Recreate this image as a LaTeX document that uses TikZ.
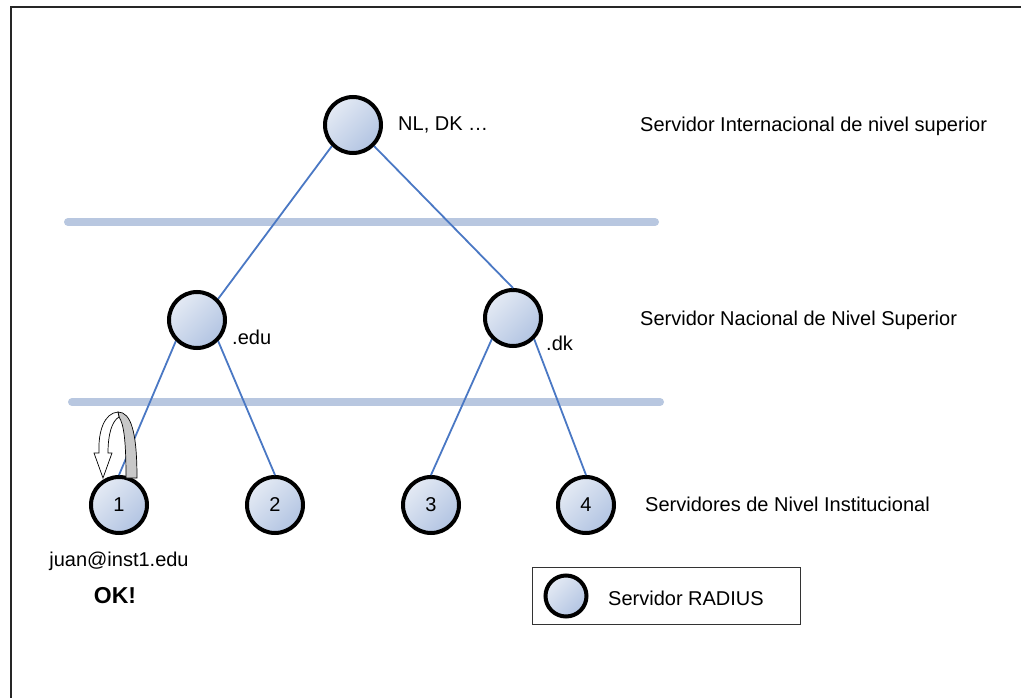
\documentclass[tikz,border=0pt]{standalone}
\usepackage{fontspec}
\setmainfont{Liberation Sans}
\definecolor{barblue}{HTML}{B8C7E0}
\definecolor{linkblue}{HTML}{4A78C4}
\definecolor{nodelight}{HTML}{E4EAF4}
\definecolor{nodedark}{HTML}{B2C4E2}
\definecolor{ribbongray}{HTML}{C8C8C8}
\tikzset{
  server/.style={circle, draw=black, line width=4pt, minimum size=56pt, inner sep=0pt,
    left color=nodelight, right color=nodedark, shading angle=45,
    font=\fontsize{20}{24}\selectfont},
  legendserver/.style={server, minimum size=41pt},
  link/.style={draw=linkblue, line width=1.8pt},
  bar/.style={draw=barblue, line width=8pt, line cap=round},
  lbl/.style={anchor=west, inner sep=0pt, font=\fontsize{20}{24}\selectfont},
}
\begin{document}
\begin{tikzpicture}[x=1pt, y=-1pt]
\useasboundingbox (0,0) rectangle (1021,698);
\fill[white] (0,0) rectangle (1021,698);
% frame
\draw[line width=2pt, black!85] (10.5,698) -- (10.5,7.5) -- (1021,7.5);

% level separators
\draw[bar] (68,222) -- (655,222);
\draw[bar] (72,402) -- (660,402);

% servers
\node[server] (top) at (353,125) {};
\node[server] (edu) at (197,320) {};
\node[server] (dk) at (513,318) {};
\node[server] (s1) at (119,505) {1};
\node[server] (s2) at (275,505) {2};
\node[server] (s3) at (431,505) {3};
\node[server] (s4) at (586,505) {4};

% hierarchy links
\draw[link] (top.south west) -- (edu.north east);
\draw[link] (top.south east) -- (dk.north);
\draw[link] (edu.south west) -- (s1.north);
\draw[link] (edu.south east) -- (s2.north);
\draw[link] (dk.south west) -- (s3.north);
\draw[link] (dk.south east) -- (s4.north);

% local authentication loop on server 1
\draw[fill=ribbongray, line width=0.7pt] (118,412) .. controls (131,412) and (137,432) .. (137,478)
  -- (126,478) .. controls (126,442) and (124,424) .. (119,417) -- cycle;
\draw[fill=white, line width=0.7pt] (118,412) .. controls (104,413) and (98,432) .. (99,453)
  -- (94,453) -- (103,478) -- (112,453) -- (108,453)
  .. controls (108,434) and (112,421) .. (119,417) -- cycle;

% node labels
\node[lbl] (lnl) at (398,125) {NL, DK …};
\node[lbl] (ledu) at (232,337) {.edu};
\node[lbl] (ldk) at (546,343) {.dk};
\node[lbl, anchor=center] (user) at (119,561) {juan@inst1.edu};
\node[lbl, anchor=center, font=\fontsize{23}{27}\selectfont\bfseries] (ok) at (115,596) {OK!};

% level names
\node[lbl] (lv1) at (640,126) {Servidor Internacional de nivel superior};
\node[lbl] (lv2) at (640,320) {Servidor Nacional de Nivel Superior};
\node[lbl] (lv3) at (645,504) {Servidores de Nivel Institucional};

% legend
\node[draw=black!80, line width=1pt, minimum width=268pt, minimum height=57pt, inner sep=0pt] (legend) at (666,595.5) {};
\node[legendserver] (lsrv) at (566,596) {};
\node[lbl] (ltext) at (608,598) {Servidor RADIUS};
\end{tikzpicture}
\end{document}
